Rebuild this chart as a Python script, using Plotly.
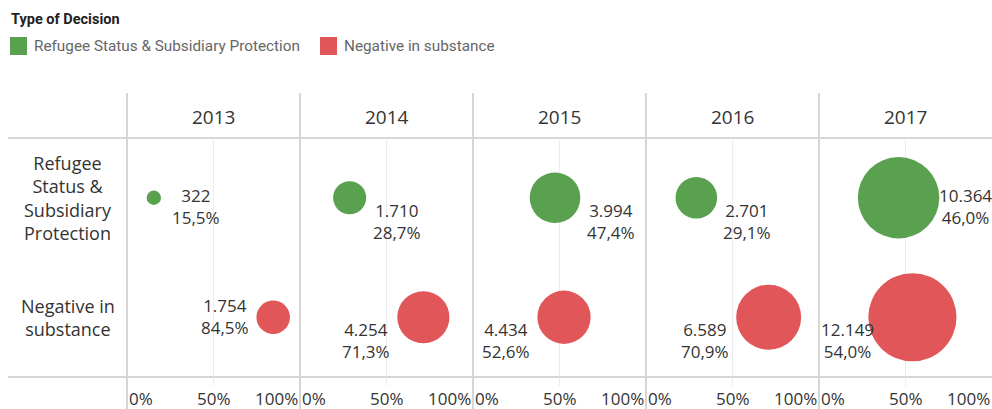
import math
import plotly.graph_objects as go
from plotly.subplots import make_subplots

# ---------------- data ----------------
years = ["2013", "2014", "2015", "2016", "2017"]
decision_types = ["Refugee Status & Subsidiary Protection", "Negative in substance"]
refugee_counts = [322, 1710, 3994, 2701, 10364]
refugee_pct = [15.5, 28.7, 47.4, 29.1, 46.0]
negative_counts = [1754, 4254, 4434, 6589, 12149]
negative_pct = [84.5, 71.3, 52.6, 70.9, 54.0]
x_tick_vals = [0, 0.5, 1]
x_tick_labels = ["0%", "50%", "100%"]
row_labels = ["Refugee<br>Status &<br>Subsidiary<br>Protection", "Negative in<br>substance"]
legend_title = "Type of Decision"

# ---------------- style ----------------
GREEN = "#59A14F"
RED = "#E15759"
LINE = "#d6d6d6"
GRID = "#ececec"
TXT = "#333333"
FONT = "Open Sans"
SIZEREF = 3.125  # area-mode bubble scaling

# label placement (px) per year
green_gap = [9, 5, 5, 4, -2]
green_dy = [-9, -24, -24, -24, -9]
red_gap = [5, 5, 5, 5, -8]
red_dy = [1, -23, -23, -23, -23]

W, H = 992, 409
ML, MR, MT, MB = 127, 0, 138, 32
PW, PH = W - ML - MR, H - MT - MB


def px_x(px):
    return (px - ML) / PW


def px_y(py):
    return (H - MB - py) / PH


def fmt_int(v):
    return f"{v:,}".replace(",", ".")


def fmt_pct(p):
    return f"{p:.1f}".replace(".", ",") + "%"


def radius(v):
    return math.sqrt(v / 2 / SIZEREF)


n = len(years)
fig = make_subplots(rows=1, cols=n, shared_yaxes=True, horizontal_spacing=0)

annotations = []
for i in range(n):
    col = i + 1
    xr = "x" if col == 1 else f"x{col}"
    fig.add_trace(go.Scatter(
        x=[refugee_pct[i] / 100], y=[1], mode="markers",
        marker=dict(size=[refugee_counts[i]], sizemode="area", sizeref=SIZEREF,
                    color=GREEN, line=dict(width=0), opacity=1),
        name=decision_types[0], showlegend=False, cliponaxis=False,
        hovertemplate=f"{years[i]}<br>%{{x:.1%}}<extra></extra>"), row=1, col=col)
    fig.add_trace(go.Scatter(
        x=[negative_pct[i] / 100], y=[0], mode="markers",
        marker=dict(size=[negative_counts[i]], sizemode="area", sizeref=SIZEREF,
                    color=RED, line=dict(width=0), opacity=1),
        name=decision_types[1], showlegend=False, cliponaxis=False,
        hovertemplate=f"{years[i]}<br>%{{x:.1%}}<extra></extra>"), row=1, col=col)

    # value labels
    annotations.append(dict(
        x=refugee_pct[i] / 100, y=1, xref=xr, yref="y",
        text=f"{fmt_int(refugee_counts[i])}<br>{fmt_pct(refugee_pct[i])}",
        showarrow=False, xanchor="left", yanchor="middle", align="center",
        xshift=radius(refugee_counts[i]) + green_gap[i], yshift=green_dy[i],
        font=dict(family=FONT, size=17, color=TXT)))
    annotations.append(dict(
        x=negative_pct[i] / 100, y=0, xref=xr, yref="y",
        text=f"{fmt_int(negative_counts[i])}<br>{fmt_pct(negative_pct[i])}",
        showarrow=False, xanchor="right", yanchor="middle", align="center",
        xshift=-(radius(negative_counts[i]) + red_gap[i]), yshift=red_dy[i],
        font=dict(family=FONT, size=17, color=TXT)))

    # year header
    annotations.append(dict(
        x=0.5, y=px_y(117), xref=f"{xr} domain", yref="paper", text=years[i],
        showarrow=False, xanchor="center", yanchor="middle",
        font=dict(family=FONT, size=19, color=TXT)))

    # axis tick labels (0% left-aligned, 50% centered, 100% right-aligned)
    for tv, tl, anc in zip(x_tick_vals, x_tick_labels, ["left", "center", "right"]):
        annotations.append(dict(
            x=tv, y=px_y(398), xref=f"{xr} domain", yref="paper", text=tl,
            showarrow=False, xanchor=anc, yanchor="middle",
            font=dict(family=FONT, size=17, color=TXT)))

    fig.update_xaxes(range=[0, 1], tickvals=[0.5], showticklabels=False,
                     showgrid=True, gridcolor=GRID, gridwidth=1,
                     ticks="outside", ticklen=8, tickcolor=GRID, tickwidth=1,
                     zeroline=False, showline=False, fixedrange=True,
                     row=1, col=col)

fig.update_yaxes(range=[-0.5, 1.5], showticklabels=False, showgrid=False,
                 zeroline=False, showline=False, ticks="", fixedrange=True)

# row labels
for yv, lab in zip([1, 0], row_labels):
    annotations.append(dict(
        x=px_x(68), y=yv, xref="paper", yref="y", text=lab, showarrow=False,
        xanchor="center", yanchor="middle", align="center",
        font=dict(family=FONT, size=18, color=TXT)))

shapes = []
# legend (title, swatches, labels)
annotations.append(dict(
    x=px_x(9), y=px_y(20), xref="paper", yref="paper",
    text=f"<b>{legend_title}</b>", showarrow=False, xanchor="left", yanchor="middle",
    font=dict(family="Roboto", size=14.5, color="#222222")))
for name, colr, sx in zip(decision_types, [GREEN, RED], [10, 320]):
    shapes.append(dict(type="rect", xref="paper", yref="paper",
                       x0=px_x(sx), x1=px_x(sx + 17), y0=px_y(55), y1=px_y(37),
                       fillcolor=colr, line=dict(width=0)))
    annotations.append(dict(
        x=px_x(sx + 22), y=px_y(46), xref="paper", yref="paper", text=name,
        showarrow=False, xanchor="left", yanchor="middle",
        font=dict(family="Roboto", size=15.3, color="#666666")))

# horizontal frame lines
for yv in [1, 0]:
    shapes.append(dict(type="line", xref="paper", yref="paper",
                       x0=px_x(8), x1=1, y0=yv, y1=yv,
                       line=dict(color=LINE, width=2), layer="below"))
# vertical panel separators
for i in range(n):
    xr = "x" if i == 0 else f"x{i + 1}"
    shapes.append(dict(type="line", xref=f"{xr} domain", yref="paper",
                       x0=0, x1=0, y0=px_y(409), y1=px_y(93),
                       line=dict(color=LINE, width=2), layer="below"))

fig.update_layout(
    width=W, height=H,
    margin=dict(l=ML, r=MR, t=MT, b=MB),
    paper_bgcolor="white", plot_bgcolor="white",
    font=dict(family=FONT, color=TXT),
    showlegend=False,
    annotations=annotations,
    shapes=shapes,
)

# remove the default 8px page margin so the 992x409 figure fills the window exactly
fig.write_html("out.html",
               config={"displayModeBar": False},
               post_script="document.body.style.margin='0';"
                           "document.body.style.overflow='hidden';")
